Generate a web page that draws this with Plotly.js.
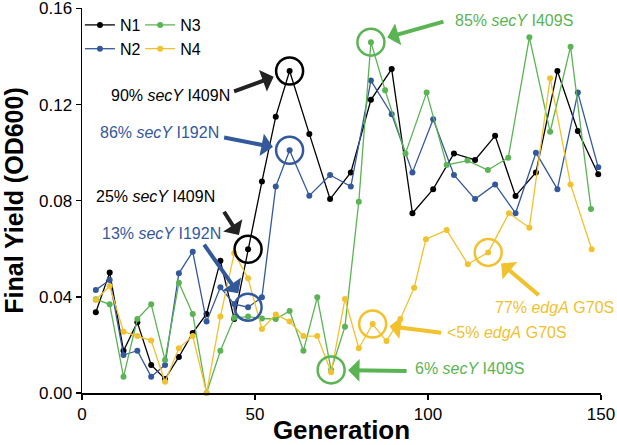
<!DOCTYPE html>
<html>
<head>
<meta charset="utf-8">
<script src="https://cdn.plot.ly/plotly-3.0.1.min.js"></script>
<style>html,body{margin:0;padding:0;background:#fff;} #chart{width:617px;height:445px;}</style>
</head>
<body>
<div id="chart"></div>
<script>
// ---- Data ----
const genN1 = [4,8,12,16,20,24,28,32,36,40,44,48,52,56,60,65.7,71.7,77.7,83.5,89.5,95.5,101.5,107.5,113.6,119.4,125.3,131.2,137.4,143.3,149.2];
const yieldN1 = [0.0336,0.0501,0.0176,0.0294,0.0117,0.0058,0.015,0.025,0.0329,0.055,0.0308,0.0598,0.088,0.115,0.134,0.1078,0.0807,0.0918,0.122,0.1348,0.0748,0.0848,0.0997,0.097,0.107,0.082,0.0918,0.134,0.109,0.091];

const genN2 = [4,8,12,16,20,24,28,32,36,40,44,48,52,56,60,65.7,71.7,77.7,83.5,89.5,95.5,101.5,107.5,113.6,119.4,125.3,131.2,137.4,143.3,149.2];
const yieldN2 = [0.0429,0.047,0.0158,0.0176,0.0068,0.0117,0.0498,0.0588,0.0297,0.044,0.037,0.0357,0.0398,0.0859,0.101,0.0821,0.0907,0.0859,0.130,0.116,0.0918,0.1139,0.0907,0.0807,0.0868,0.0748,0.100,0.0848,0.125,0.0939];

const genN3 = [4,8,12,16,20,24,28,32,36,40,44,48,52,56,60,64,68,72,76,80,83.5,87.6,93.5,99.6,105.4,111.4,117.3,123.2,129.3,135.3,141.2,147.1];
const yieldN3 = [0.039,0.0369,0.0068,0.0308,0.0369,0.0137,0.0459,0.0329,0.0,0.0176,0.0313,0.0318,0.031,0.0308,0.0341,0.0176,0.0398,0.0096,0.0276,0.0796,0.146,0.126,0.0997,0.125,0.0949,0.0967,0.0928,0.0979,0.148,0.1087,0.1441,0.0766];

const genN4 = [4,8,12,16,20,24,28,32,36,40,44,48,52,56,60,64,68,72,76,80,84,88,92,96,99.4,105.4,111.5,117.4,123.4,129.3,135.3,141.2,147.3];
const yieldN4 = [0.0387,0.0445,0.0255,0.0237,0.0218,0.0047,0.0186,0.0237,0.0,0.0318,0.0581,0.0477,0.0266,0.0327,0.0297,0.0237,0.0237,0.0086,0.0391,0.0186,0.0287,0.0216,0.0308,0.0438,0.064,0.0678,0.0536,0.0585,0.0748,0.0688,0.131,0.0868,0.0598];

const seriesNames = ['N1','N2','N3','N4'];
const xTicks = [0,50,100,150];
const yTicks = [0,0.04,0.08,0.12,0.16];

// ---- Styling ----
const FONT = 'Liberation Sans, Arial, Helvetica, sans-serif';
const COL = {N1:'#000000', N2:'#34589c', N3:'#5bb453', N4:'#f2c12e'};

function tr(name, x, y, legend){
  return {
    type:'scatter', mode:'lines+markers', name:name, x:x, y:y,
    line:{color:COL[name], width:1.3},
    marker:{color:COL[name], size:6},
    cliponaxis:false, legend:legend
  };
}
const data = [
  tr('N1', genN1, yieldN1, 'legend'),
  tr('N2', genN2, yieldN2, 'legend'),
  tr('N3', genN3, yieldN3, 'legend2'),
  tr('N4', genN4, yieldN4, 'legend2')
];

// circled points: [gens, values, index, colour]
const circled = [
  [genN1, yieldN1, 14, COL.N1],
  [genN2, yieldN2, 14, COL.N2],
  [genN1, yieldN1, 11, COL.N1],
  [genN2, yieldN2, 11, COL.N2],
  [genN3, yieldN3, 20, COL.N3],
  [genN3, yieldN3, 17, COL.N3],
  [genN4, yieldN4, 20, COL.N4],
  [genN4, yieldN4, 27, COL.N4]
];
const R = 13.5;
const shapes = circled.map(c => ({
  type:'circle', xref:'x', yref:'y', xsizemode:'pixel', ysizemode:'pixel',
  xanchor:c[0][c[2]], yanchor:c[1][c[2]], x0:-R, x1:R, y0:-R, y1:R,
  line:{color:c[3], width:2.5}, layer:'above'
}));

// arrows: [gens, values, index, colour, ax, ay]
const arrowDefs = [
  [genN1, yieldN1, 14, '#222222', -57, 21],
  [genN2, yieldN2, 14, COL.N2, -67, -13],
  [genN1, yieldN1, 11, '#222222', -25, -39],
  [genN2, yieldN2, 11, COL.N2, -45, -64],
  [genN3, yieldN3, 20, COL.N3, 74, -21],
  [genN3, yieldN3, 17, COL.N3, 77, 1],
  [genN4, yieldN4, 20, COL.N4, 70, 9],
  [genN4, yieldN4, 27, COL.N4, 52, 44]
];
const annotations = arrowDefs.map(a => ({
  xref:'x', yref:'y', x:a[0][a[2]], y:a[1][a[2]], ax:a[4], ay:a[5],
  text:'', showarrow:true, arrowhead:1, arrowsize:0.95, arrowwidth:4,
  arrowcolor:a[3], standoff:17
}));

// labels: [text, anchor gen, val, xanchor, colour]
const labels = [
  ['90% <i>secY</i> I409N', 43.4, 0.124, 'right', '#000000'],
  ['86% <i>secY</i> I192N', 40.2, 0.1082, 'right', COL.N2],
  ['25% <i>secY</i> I409N', 39.0, 0.0816, 'right', '#000000'],
  ['13% <i>secY</i> I192N', 40.75, 0.0662, 'right', COL.N2],
  ['85% <i>secY</i> I409S', 107.2, 0.1552, 'left', COL.N3],
  ['6% <i>secY</i> I409S', 95.7, 0.010, 'left', COL.N3],
  ['&lt;5% <i>edgA</i> G70S', 104.9, 0.025, 'left', COL.N4],
  ['77% <i>edgA</i> G70S', 118.8, 0.0354, 'left', COL.N4]
];
labels.forEach(l => annotations.push({
  xref:'x', yref:'y', x:l[1], y:l[2], text:l[0], showarrow:false,
  xanchor:l[3], yanchor:'middle', font:{family:FONT, size:16, color:l[4]}
}));

const layout = {
  width:617, height:445,
  margin:{l:82, r:16, t:8, b:52, pad:0},
  paper_bgcolor:'#ffffff', plot_bgcolor:'#ffffff',
  font:{family:FONT, size:16, color:'#000'},
  xaxis:{
    range:[0,150], tickvals:xTicks, ticktext:xTicks.map(String),
    showgrid:false, zeroline:false, showline:true, linecolor:'#000', linewidth:1.5,
    ticks:'outside', ticklen:5, tickwidth:1.5, tickcolor:'#000',
    tickfont:{family:FONT, size:17, color:'#000'}, ticklabeloverflow:'allow',
    title:{text:'<b>Generation</b>', font:{family:FONT, size:26, color:'#000'}, standoff:2}
  },
  yaxis:{
    range:[0,0.1602], tickvals:yTicks, ticktext:yTicks.map(v=>v.toFixed(2)),
    showgrid:false, zeroline:false, showline:true, linecolor:'#000', linewidth:1.5,
    ticks:'outside', ticklen:5, tickwidth:1.5, tickcolor:'#000',
    tickfont:{family:FONT, size:17, color:'#000'}, ticklabeloverflow:'allow',
    automargin:'left',
    title:{text:'<b>Final Yield (OD600)</b>', font:{family:FONT, size:25, color:'#000'}, standoff:15}
  },
  showlegend:true,
  legend:{x:-0.004, y:1.0, xanchor:'left', yanchor:'top', bgcolor:'rgba(0,0,0,0)',
          font:{family:FONT, size:16, color:'#000'}, tracegroupgap:0, itemwidth:30},
  legend2:{x:0.112, y:1.0, xanchor:'left', yanchor:'top', bgcolor:'rgba(0,0,0,0)',
          font:{family:FONT, size:16, color:'#000'}, tracegroupgap:0, itemwidth:30},
  shapes:shapes,
  annotations:annotations
};

Plotly.newPlot('chart', data, layout, {displayModeBar:false, staticPlot:true});
</script>
</body>
</html>
